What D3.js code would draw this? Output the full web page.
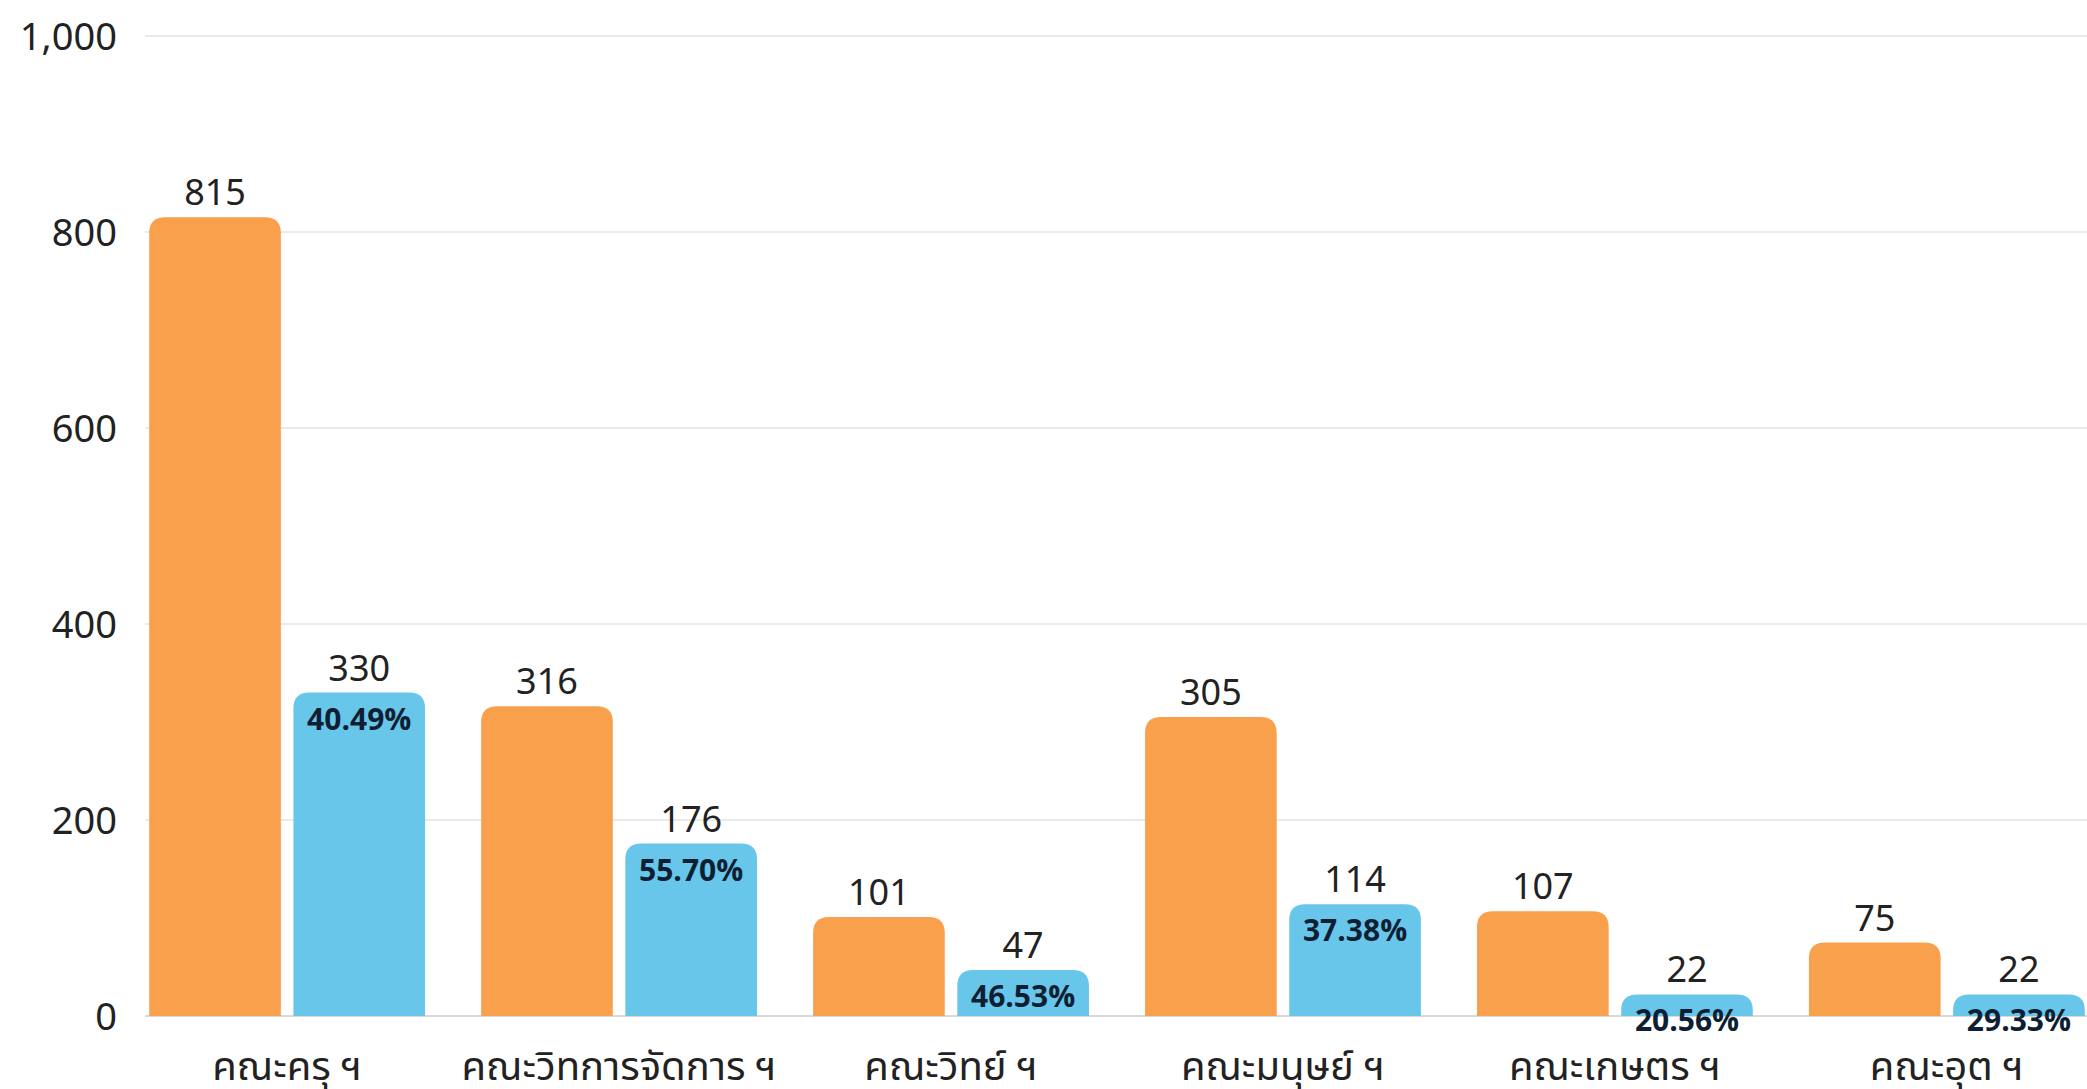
<!DOCTYPE html>
<html><head><meta charset="utf-8">
<script src="https://cdn.jsdelivr.net/npm/d3@7"></script>
<style>
html,body{margin:0;padding:0;background:#fff;}
svg{display:block;}
text{font-family:"Noto Sans Thai","Noto Sans","Open Sans",sans-serif;}
</style></head>
<body>
<svg id="chart" width="2087" height="1089"></svg>
<script>
const categories = ["คณะครุ ฯ","คณะวิทการจัดการ ฯ","คณะวิทย์ ฯ","คณะมนุษย์ ฯ","คณะเกษตร ฯ","คณะอุต ฯ"];
const totalValues = [815,316,101,305,107,75];
const subValues = [330,176,47,114,22,22];
const percentLabels = ["40.49%","55.70%","46.53%","37.38%","20.56%","29.33%"];
const yTicks = [0,200,400,600,800,1000];
const seriesKeys = ["total","sub"];
const seriesColors = {total:"#F9A04D", sub:"#68C6EA"};

const svg = d3.select("#chart");
const y = d3.scaleLinear().domain([0,1000]).range([1016,36]);
const x0 = d3.scaleBand().domain(categories).range([121,2113]).paddingInner(0.169).paddingOuter(0.085);
const x1 = d3.scaleBand().domain(seriesKeys).range([0,x0.bandwidth()]).paddingInner(0.087).paddingOuter(0);

// grid
const grid = svg.append("g")
  .attr("transform","translate(0,0)")
  .call(d3.axisLeft(y).tickValues(yTicks).tickSize(0).tickFormat(""));
grid.select(".domain").remove();
svg.append("g").selectAll("line").data(yTicks).join("line")
  .attr("x1",145).attr("x2",2087)
  .attr("y1",d=>y(d)).attr("y2",d=>y(d))
  .attr("stroke",d=>d===0?"#d9d9d9":"#ebebeb").attr("stroke-width",2);

// y labels
const yAxis = svg.append("g").attr("transform","translate(117,0)")
  .call(d3.axisLeft(y).tickValues(yTicks).tickSize(0).tickPadding(0).tickFormat(d3.format(",")));
yAxis.select(".domain").remove();
yAxis.selectAll("text").attr("font-size",38).attr("fill","#222").attr("dy","0.35em")
  .style("font-family","'Noto Sans','Open Sans',sans-serif");

function topRounded(xp, yp, w, h, r){
  r = Math.min(r, w/2, h);
  return `M${xp},${yp+h}V${yp+r}Q${xp},${yp} ${xp+r},${yp}H${xp+w-r}Q${xp+w},${yp} ${xp+w},${yp+r}V${yp+h}Z`;
}

const rows = categories.map((c,i)=>({cat:c,total:totalValues[i],sub:subValues[i],pct:percentLabels[i]}));
const groups = svg.append("g").selectAll("g").data(rows).join("g")
  .attr("transform",d=>`translate(${x0(d.cat)},0)`);

groups.selectAll("path").data(d=>seriesKeys.map(k=>({key:k,value:d[k]}))).join("path")
  .attr("d",d=>topRounded(x1(d.key), y(d.value), x1.bandwidth(), y(0)-y(d.value), 16))
  .attr("fill",d=>seriesColors[d.key]);

groups.selectAll("text.val").data(d=>seriesKeys.map(k=>({key:k,value:d[k]}))).join("text")
  .attr("class","val")
  .attr("x",d=>x1(d.key)+x1.bandwidth()/2)
  .attr("y",d=>y(d.value)-12)
  .attr("text-anchor","middle").attr("font-size",36).attr("fill","#222")
  .text(d=>d.value);

groups.append("text")
  .attr("x",x1("sub")+x1.bandwidth()/2)
  .attr("y",d=>y(d.sub)+37)
  .attr("text-anchor","middle").attr("font-size",30).attr("font-weight","bold").attr("fill","#0f1f33")
  .text(d=>d.pct);

// category labels
groups.append("text")
  .attr("x",x0.bandwidth()/2).attr("y",1080)
  .attr("text-anchor","middle").attr("font-size",40).attr("fill","#222")
  .text(d=>d.cat);
</script>
</body></html>
